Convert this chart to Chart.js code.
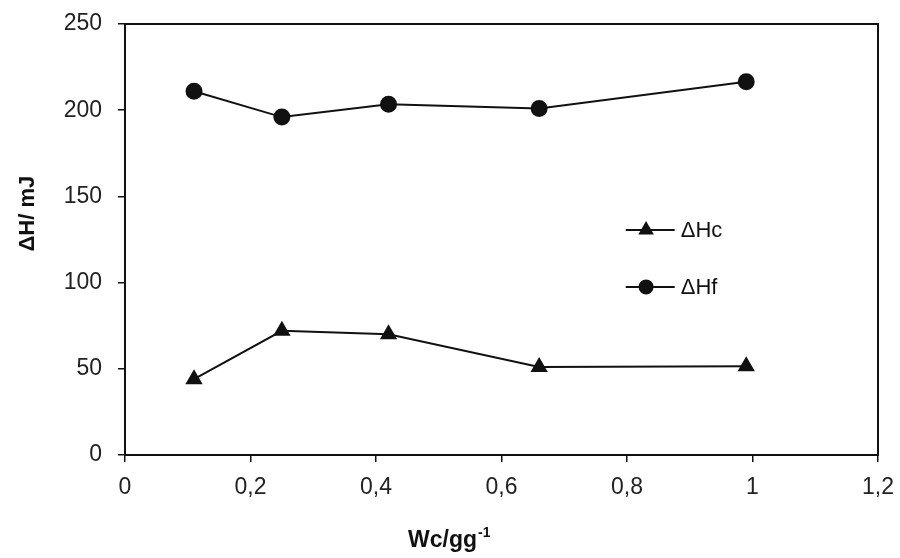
<!DOCTYPE html>
<html>
<head>
<meta charset="utf-8">
<script src="https://cdn.jsdelivr.net/npm/chart.js@4"></script>
<style>
  html, body { margin: 0; padding: 0; background: #fff; }
  #wrap { width: 900px; height: 558px; }
</style>
</head>
<body>
<div id="wrap"><canvas id="myChart"></canvas></div>
<script>
// values
const wc = [0.11, 0.25, 0.42, 0.66, 0.99];
const dHc = [44, 72, 70, 51, 51.5];
const dHf = [211, 196, 203.5, 201, 216.5];
const xTicks = [0, 0.2, 0.4, 0.6, 0.8, 1, 1.2];
const yTicks = [0, 50, 100, 150, 200, 250];
const seriesNames = ['\u0394Hc', '\u0394Hf'];
const xTitle = ['Wc/gg', '-1'];   // text + superscript
const yTitle = '\u0394H/ mJ';

const ink = '#111';
const fontFam = '"Liberation Sans", Arial, sans-serif';

// box around the plot, axis titles and the small legend inside it
const boxAndLegend = {
  id: 'boxAndLegend',
  afterDraw(chart) {
    const { ctx, chartArea: a } = chart;
    const w = a.right - a.left, h = a.bottom - a.top;
    ctx.save();
    ctx.strokeStyle = ink;
    ctx.lineWidth = 2;
    ctx.strokeRect(a.left, a.top, w, h);

    // axis titles (the original has them off-centre)
    ctx.fillStyle = ink;
    ctx.textBaseline = 'middle';
    ctx.font = 'bold 23px ' + fontFam;
    const mainW = ctx.measureText(xTitle[0]).width;
    ctx.font = 'bold 14px ' + fontFam;
    const supW = ctx.measureText(xTitle[1]).width;
    let tx = a.left + w * 0.43 - (mainW + supW) / 2;
    const ty = a.bottom + 86;
    ctx.textAlign = 'left';
    ctx.font = 'bold 23px ' + fontFam;
    ctx.fillText(xTitle[0], tx, ty);
    ctx.font = 'bold 14px ' + fontFam;
    ctx.fillText(xTitle[1], tx + mainW + 1, ty - 8);

    ctx.save();
    ctx.translate(28, a.top + h * 0.44);
    ctx.rotate(-Math.PI / 2);
    ctx.textAlign = 'center';
    ctx.font = 'bold 22px ' + fontFam;
    ctx.fillText(yTitle, 0, 0);
    ctx.restore();

    // legend
    const xs = a.left + w * 0.665, xe = a.left + w * 0.73;
    const xm = a.left + w * 0.692, xt = a.left + w * 0.738;
    const rows = [0.478, 0.61];
    chart.data.datasets.forEach((ds, i) => {
      const y = a.top + h * rows[i];
      ctx.beginPath();
      ctx.moveTo(xs, y);
      ctx.lineTo(xe, y);
      ctx.lineWidth = 2;
      ctx.strokeStyle = ink;
      ctx.stroke();
      ctx.fillStyle = ink;
      Chart.helpers.drawPoint(ctx, {
        pointStyle: ds.pointStyle, radius: ds.pointRadius - 1, borderWidth: 1
      }, xm, y);
      ctx.fill();
      ctx.font = '22px ' + fontFam;
      ctx.textBaseline = 'middle';
      ctx.textAlign = 'left';
      ctx.fillText(ds.label, xt, y + 1);
    });
    ctx.restore();
  }
};

const ctx = document.getElementById('myChart');
new Chart(ctx, {
  type: 'line',
  data: {
    datasets: [{
      label: seriesNames[0],
      data: wc.map((x, i) => ({ x: x, y: dHc[i] })),
      borderColor: ink,
      backgroundColor: ink,
      borderWidth: 2,
      pointStyle: 'triangle',
      pointRadius: 8,
      pointHoverRadius: 8
    }, {
      label: seriesNames[1],
      data: wc.map((x, i) => ({ x: x, y: dHf[i] })),
      borderColor: ink,
      backgroundColor: ink,
      borderWidth: 2,
      pointStyle: 'circle',
      pointRadius: 7.5,
      pointHoverRadius: 7.5
    }]
  },
  options: {
    responsive: true,
    maintainAspectRatio: false,
    animation: false,
    layout: { padding: { left: 0, right: 22, top: 24, bottom: 0 } },
    plugins: {
      legend: { display: false },
      tooltip: { enabled: false }
    },
    scales: {
      x: {
        type: 'linear',
        min: 0,
        max: 1.2,
        afterBuildTicks: (s) => { s.ticks = xTicks.map(v => ({ value: v })); },
        afterFit: (s) => {
          s.height = 103;
          s.paddingLeft = 0;
          s.paddingRight = 0;
        },
        grid: { drawOnChartArea: false, tickLength: 7, color: ink, lineWidth: 1.5 },
        border: { color: ink, width: 2 },
        ticks: {
          color: '#222',
          padding: 12,
          maxRotation: 0,
          font: { family: fontFam, size: 23 },
          callback: (v) => String(Math.round(v * 10) / 10).replace('.', ',')
        }
      },
      y: {
        min: 0,
        max: 250,
        afterBuildTicks: (s) => { s.ticks = yTicks.map(v => ({ value: v })); },
        afterFit: (s) => {
          s.width = 125;
          s.paddingTop = 0;
          s.paddingBottom = 0;
        },
        grid: { drawOnChartArea: false, tickLength: 7, color: ink, lineWidth: 1.5 },
        border: { color: ink, width: 2 },
        ticks: {
          color: '#222',
          padding: 16,
          font: { family: fontFam, size: 23 }
        }
      }
    }
  },
  plugins: [boxAndLegend]
});
</script>
</body>
</html>
